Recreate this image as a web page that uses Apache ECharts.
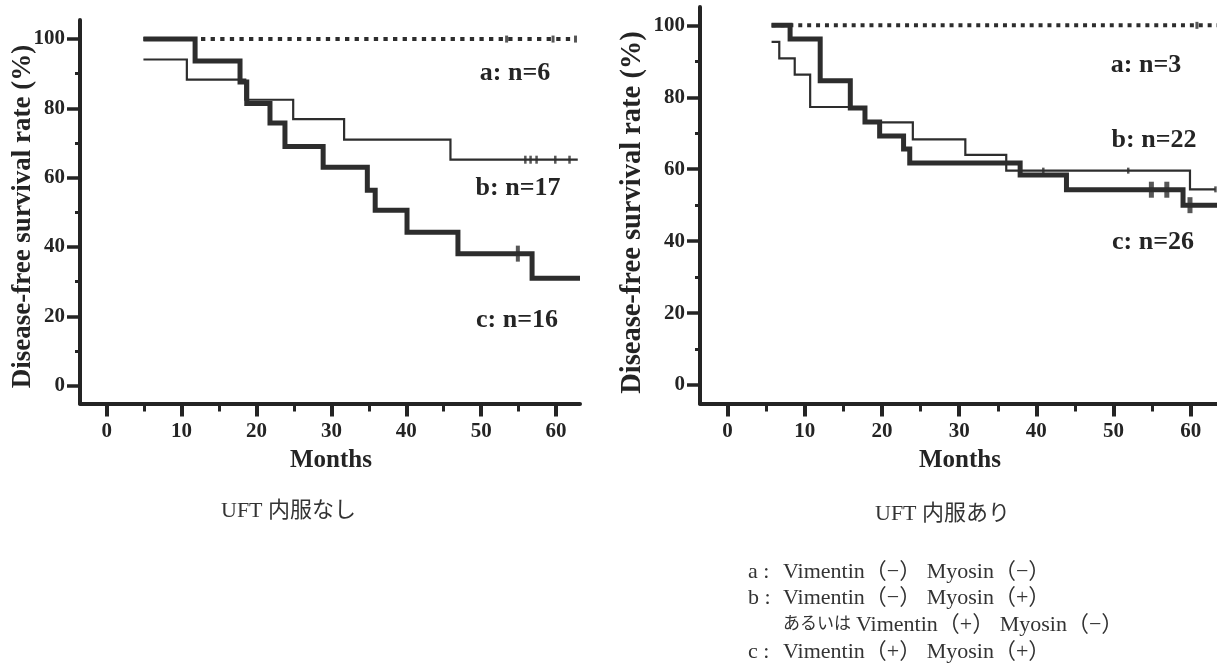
<!DOCTYPE html>
<html>
<head>
<meta charset="utf-8">
<script src="https://cdn.jsdelivr.net/npm/echarts@6/dist/echarts.min.js"></script>
<style>
html,body{margin:0;padding:0;background:#fff;}
#chart{width:1217px;height:666px;}
</style>
</head>
<body>
<div id="chart"></div>
<script>
// ---------- axis ticks ----------
const tickMonths = [0, 10, 20, 30, 40, 50, 60];
const minorMonths = [5, 15, 25, 35, 45, 55];
const tickRates = [0, 20, 40, 60, 80, 100];
const minorRates = [10, 30, 50, 70, 90];

// ---------- left panel: UFT 内服なし ----------
const L_a_months = [4.9, 62.6];
const L_a_rate = [100, 100];
const L_a_censMonths = [53.4, 59.6, 62.6];
const L_a_censRate = [100, 100, 100];

const L_b_months = [4.9, 10.7, 18.5, 24.9, 31.7, 45.9, 62.9];
const L_b_rate = [94.1, 88.3, 82.5, 76.9, 71.0, 65.2, 65.2];
const L_b_censMonths = [55.9, 56.6, 57.4, 59.9, 61.8];
const L_b_censRate = [65.2, 65.2, 65.2, 65.2, 65.2];

const L_c_months = [4.9, 11.8, 17.8, 18.7, 21.8, 23.8, 28.9, 34.8, 35.85, 40.1, 46.9, 56.8, 63.2];
const L_c_rate = [100, 93.7, 87.6, 81.4, 75.8, 69.0, 63.0, 56.4, 50.6, 44.3, 38.1, 31.0, 31.0];
const L_c_censMonths = [54.9];
const L_c_censRate = [38.1];

// ---------- right panel: UFT 内服あり ----------
const R_a_months = [5.7, 63.4];
const R_a_rate = [100, 100];
const R_a_censMonths = [60.8];
const R_a_censRate = [100];

const R_b_months = [5.7, 6.7, 8.7, 10.7, 17.8, 24.0, 30.8, 36.1, 59.9, 63.2];
const R_b_rate = [95.4, 90.8, 86.3, 77.3, 73.0, 68.3, 64.0, 59.6, 54.4, 54.4];
const R_b_censMonths = [40.9, 51.9, 63.2];
const R_b_censRate = [59.6, 59.6, 54.4];

const R_c_months = [5.7, 8.1, 12.0, 15.9, 17.8, 19.7, 22.8, 23.6, 37.9, 43.9, 59.0, 63.4];
const R_c_rate = [100, 96.2, 84.6, 77.0, 73.1, 69.2, 65.6, 61.7, 58.4, 54.3, 50.0, 50.0];
const R_c_censMonths = [54.9, 56.9, 59.9];
const R_c_censRate = [54.3, 54.3, 50.0];

// ---------- text ----------
const yTitle = 'Disease-free survival rate (%)';
const xTitle = 'Months';
const leftSubtitle = 'UFT 内服なし';
const rightSubtitle = 'UFT 内服あり';
const leftLabels = ['a: n=6', 'b: n=17', 'c: n=16'];
const rightLabels = ['a: n=3', 'b: n=22', 'c: n=26'];
const legendKeys = ['a :', 'b :', 'c :'];
const legendLines = ['Vimentin（−） Myosin（−）', 'Vimentin（−） Myosin（+）', 'Vimentin（+） Myosin（−）', 'Vimentin（+） Myosin（+）'];
const legendKana = 'あるいは';

const FONT = "'Liberation Serif', 'Times New Roman', serif";
const JFONT = "'Liberation Serif', 'Noto Sans CJK JP', serif";
const INK = '#242424';
const LINE = '#2d2d2d';
const SOFT = '#333333';

const zip = (xs, ys) => xs.map((x, i) => [x, ys[i]]);

function xAxes(grid, min, max) {
  return [
    {
      gridIndex: grid, type: 'value', position: 'bottom', min: min, max: max,
      axisLine: { show: true, onZero: false, lineStyle: { color: INK, width: 4 } },
      axisTick: { show: true, customValues: tickMonths, length: 13, lineStyle: { color: INK, width: 4 } },
      axisLabel: { show: true, customValues: tickMonths, margin: 18, color: INK, fontFamily: FONT, fontWeight: 'bold', fontSize: 21 },
      splitLine: { show: false }
    },
    {
      gridIndex: grid, type: 'value', position: 'bottom', min: min, max: max,
      axisLine: { show: false, onZero: false },
      axisTick: { show: true, customValues: minorMonths, length: 8, lineStyle: { color: INK, width: 3 } },
      axisLabel: { show: false },
      splitLine: { show: false }
    }
  ];
}
function yAxes(grid, min, max) {
  return [
    {
      gridIndex: grid, type: 'value', position: 'left', min: min, max: max,
      axisLine: { show: true, onZero: false, lineStyle: { color: INK, width: 4 } },
      axisTick: { show: true, customValues: tickRates, length: 13, lineStyle: { color: INK, width: 3.5 } },
      axisLabel: { show: true, customValues: tickRates, margin: 15, color: INK, fontFamily: FONT, fontWeight: 'bold', fontSize: 21 },
      splitLine: { show: false }
    },
    {
      gridIndex: grid, type: 'value', position: 'left', min: min, max: max,
      axisLine: { show: false, onZero: false },
      axisTick: { show: true, customValues: minorRates, length: 5, lineStyle: { color: INK, width: 3 } },
      axisLabel: { show: false },
      splitLine: { show: false }
    }
  ];
}

function stepLine(xi, yi, data, width, dash) {
  return {
    type: 'line', xAxisIndex: xi, yAxisIndex: yi, step: 'end', data: data,
    symbol: 'none', showSymbol: false, silent: true, animation: false,
    lineStyle: { color: LINE, width: width, type: dash || 'solid', cap: 'butt', join: 'miter' }
  };
}
function censor(xi, yi, data, size) {
  return {
    type: 'scatter', xAxisIndex: xi, yAxisIndex: yi, data: data,
    symbol: 'rect', symbolSize: size, silent: true, animation: false,
    itemStyle: { color: LINE }
  };
}

function txt(text, x, y, size, opts) {
  opts = opts || {};
  return {
    type: 'text', x: x, y: y, rotation: opts.rotation || 0, silent: true,
    style: {
      text: text, fill: opts.fill || INK,
      font: (opts.bold ? 'bold ' : '') + size + 'px ' + (opts.family || FONT),
      textAlign: opts.align || 'center', textVerticalAlign: 'middle',
      align: opts.align || 'center', verticalAlign: 'middle'
    }
  };
}

const chart = echarts.init(document.getElementById('chart'), null, { renderer: 'canvas' });

const option = {
  animation: false,
  backgroundColor: '#ffffff',
  grid: [
    { left: 80, top: 20, width: 500, height: 383.5 },
    { left: 700, top: 7, right: 0, height: 396.5 }
  ],
  xAxis: [].concat(xAxes(0, -3.57, 63.2), xAxes(1, -3.57, 63.4)),
  yAxis: [].concat(yAxes(0, -5.13, 105.5), yAxes(1, -5.14, 105.1)),
  series: [
    // left
    stepLine(0, 0, zip(L_a_months, L_a_rate), 4, [4.3, 5.3]),
    censor(0, 0, zip(L_a_censMonths, L_a_censRate), [3, 7]),
    stepLine(0, 0, zip(L_b_months, L_b_rate), 2.2),
    censor(0, 0, zip(L_b_censMonths, L_b_censRate), [2.5, 8]),
    stepLine(0, 0, zip(L_c_months, L_c_rate), 5),
    censor(0, 0, zip(L_c_censMonths, L_c_censRate), [4, 16]),
    // right
    stepLine(2, 2, zip(R_a_months, R_a_rate), 4, [4, 4.9]),
    censor(2, 2, zip(R_a_censMonths, R_a_censRate), [3, 7]),
    stepLine(2, 2, zip(R_b_months, R_b_rate), 2.2),
    censor(2, 2, zip(R_b_censMonths, R_b_censRate), [2.5, 6]),
    stepLine(2, 2, zip(R_c_months, R_c_rate), 5),
    censor(2, 2, zip(R_c_censMonths, R_c_censRate), [5, 16])
  ],
  graphic: {
    elements: [
      txt(yTitle, 23.5, 216.5, 27, { bold: true, rotation: Math.PI / 2 }),
      txt(yTitle, 632.5, 212.5, 28.5, { bold: true, rotation: Math.PI / 2 }),
      txt(xTitle, 331, 461, 25, { bold: true }),
      txt(xTitle, 960, 461, 25, { bold: true }),
      txt(leftLabels[0], 515, 73, 26, { bold: true }),
      txt(leftLabels[1], 518, 188, 26, { bold: true }),
      txt(leftLabels[2], 517, 320, 26, { bold: true }),
      txt(rightLabels[0], 1146, 65, 26, { bold: true }),
      txt(rightLabels[1], 1154, 140, 26, { bold: true }),
      txt(rightLabels[2], 1153, 242, 26, { bold: true }),
      txt(leftSubtitle, 221, 511, 22, { align: 'left', family: JFONT, fill: SOFT }),
      txt(rightSubtitle, 875, 514, 22, { align: 'left', family: JFONT, fill: SOFT }),
      txt(legendKeys[0], 748, 572, 22, { align: 'left', family: JFONT, fill: SOFT }),
      txt(legendLines[0], 783, 572, 22, { align: 'left', family: JFONT, fill: SOFT }),
      txt(legendKeys[1], 748, 598, 22, { align: 'left', family: JFONT, fill: SOFT }),
      txt(legendLines[1], 783, 598, 22, { align: 'left', family: JFONT, fill: SOFT }),
      txt(legendKana, 783, 625, 17, { align: 'left', family: JFONT, fill: SOFT }),
      txt(legendLines[2], 856, 625, 22, { align: 'left', family: JFONT, fill: SOFT }),
      txt(legendKeys[2], 748, 652, 22, { align: 'left', family: JFONT, fill: SOFT }),
      txt(legendLines[3], 783, 652, 22, { align: 'left', family: JFONT, fill: SOFT })
    ]
  }
};
chart.setOption(option);
</script>
</body>
</html>
